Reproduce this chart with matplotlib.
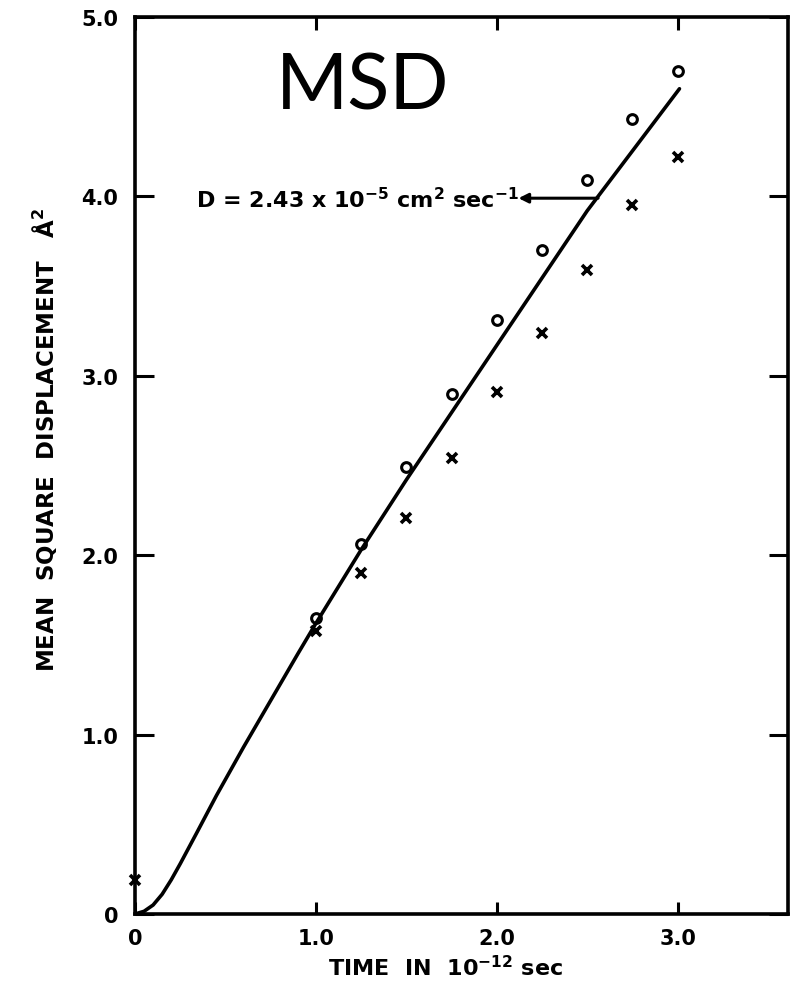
import numpy as np
import matplotlib
matplotlib.use("Agg")
from matplotlib import pyplot as plt

# time in 1e-12 sec, MSD in A^2
t_circ = [1.0, 1.25, 1.5, 1.75, 2.0, 2.25, 2.5, 2.75, 3.0]
msd_circ = [1.65, 2.06, 2.49, 2.90, 3.31, 3.70, 4.09, 4.43, 4.70]

t_cross = [0.0, 1.0, 1.25, 1.5, 1.75, 2.0, 2.25, 2.5, 2.75, 3.0]
msd_cross = [0.19, 1.58, 1.90, 2.21, 2.54, 2.91, 3.24, 3.59, 3.95, 4.22]

# smooth curve
t_line = [0, 0.05, 0.10, 0.15, 0.20, 0.25, 0.34, 0.45, 0.60, 0.75, 0.90, 1.0, 1.25, 1.5, 2.0, 2.5, 3.01]
msd_line = [0, 0.015, 0.05, 0.11, 0.19, 0.28, 0.45, 0.66, 0.93, 1.19, 1.45, 1.62, 2.03, 2.42, 3.17, 3.92, 4.60]

xticks = [0, 1.0, 2.0, 3.0]
xlabels = ["0", "1.0", "2.0", "3.0"]
yticks = [0, 1.0, 2.0, 3.0, 4.0, 5.0]
ylabels = ["0", "1.0", "2.0", "3.0", "4.0", "5.0"]

fig = plt.figure(figsize=(7.91, 9.95), dpi=100)
ax = fig.add_axes([135/791, 1-915/995, (788-135)/791, (915-18)/995])

ax.plot(t_line, msd_line, color="black", lw=2.6, solid_capstyle="round")
ax.plot(t_circ, msd_circ, "o", mfc="none", mec="black", ms=7, mew=2.2, clip_on=False)
ax.plot(t_cross, msd_cross, "x", color="black", ms=7, mew=2.6, clip_on=False)

ax.set_xlim(0, 3.61)
ax.set_ylim(0, 5.0)
ax.set_xticks(xticks)
ax.set_xticklabels(xlabels)
ax.set_yticks(yticks)
ax.set_yticklabels(ylabels)

for s in ax.spines.values():
    s.set_linewidth(2.6)
ax.tick_params(axis="x", direction="in", length=9, width=2.2, top=True,
               labelsize=15, pad=10)
ax.tick_params(axis="y", direction="in", length=14, width=2.2, right=True,
               labelsize=15, pad=12)
for lab in ax.get_xticklabels() + ax.get_yticklabels():
    lab.set_fontweight("bold")

ax.text(1.26, 4.61, "MSD", fontsize=56, family="Lato", ha="center", va="center")

ax.text(2.12, 3.99, r"D = 2.43 x 10$^{\mathbf{-5}}$ cm$^{\mathbf{2}}$ sec$^{\mathbf{-1}}$",
        fontsize=16, fontweight="bold", ha="right", va="center")
ax.annotate("", xy=(2.12, 3.99), xytext=(2.56, 3.99),
            arrowprops=dict(arrowstyle="-|>", color="black", lw=2.2,
                            mutation_scale=14, shrinkA=0, shrinkB=0))

fig.text(446/791, 1-968/995, r"TIME  IN  10$^{\mathbf{-12}}$ sec", fontsize=16,
         fontweight="bold", ha="center", va="center")
fig.text(45/791, 1-440/995, "MEAN  SQUARE  DISPLACEMENT   Å$^{\mathbf{2}}$", fontsize=16.5,
         fontweight="bold", ha="center", va="center", rotation=90)

fig.savefig("out.png", dpi=100)
